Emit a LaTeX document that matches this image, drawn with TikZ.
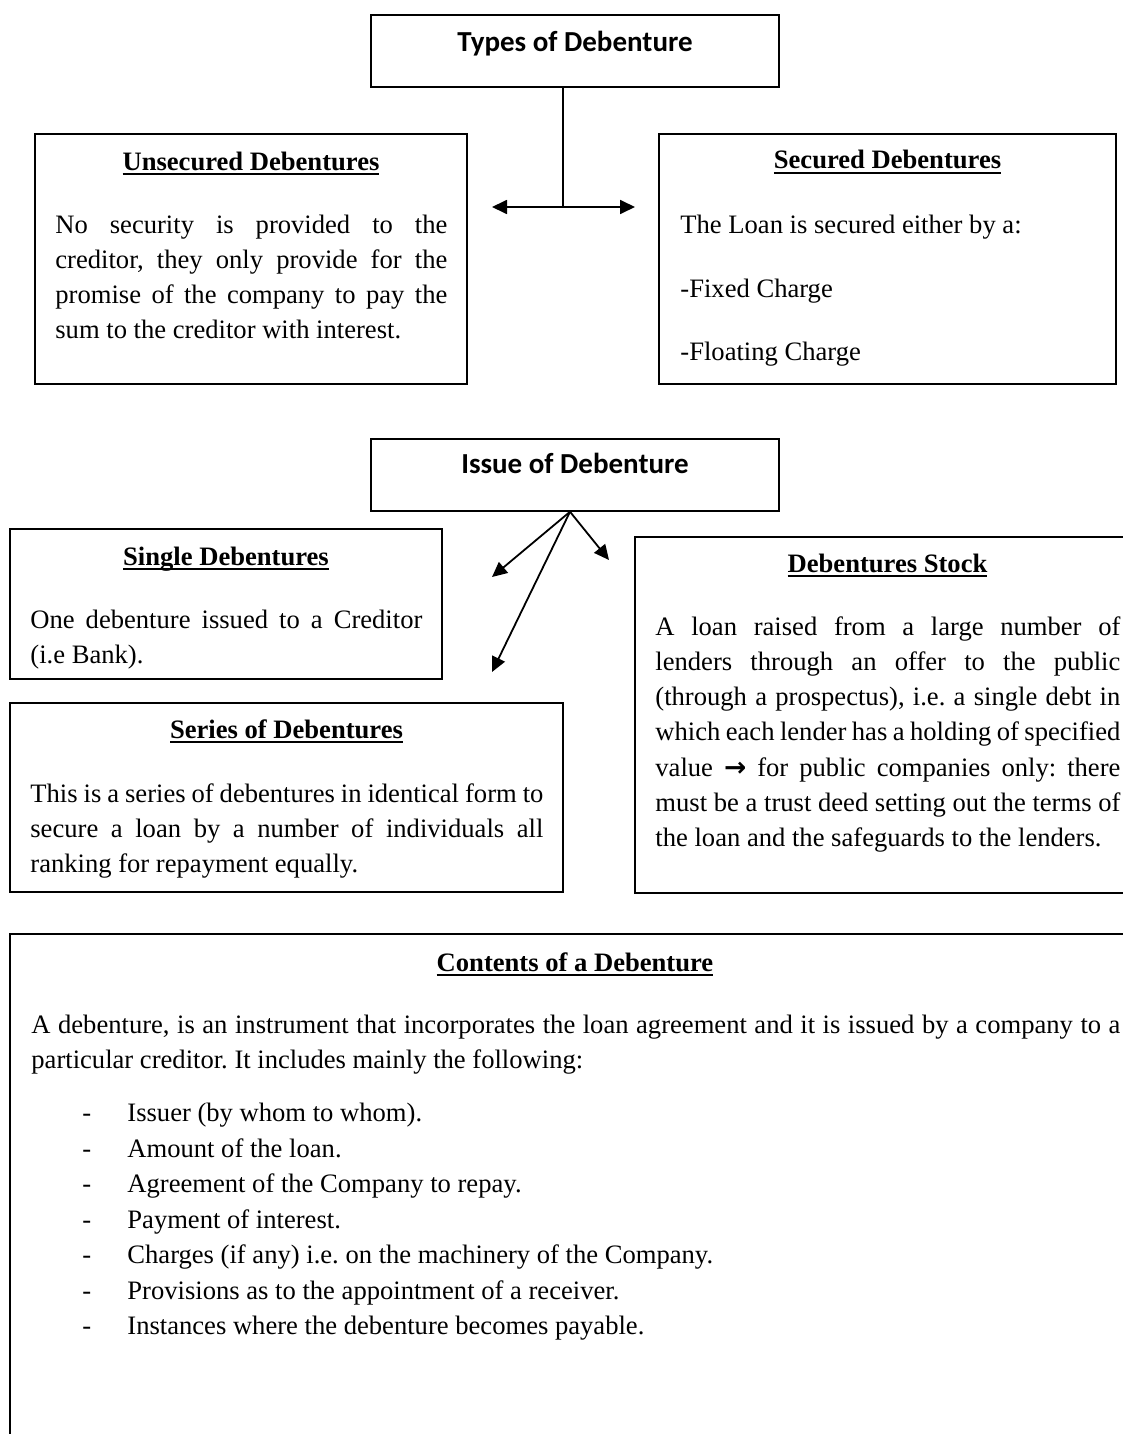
\documentclass[tikz,border=0pt]{standalone}
\usepackage{fontspec}
\setmainfont{Liberation Serif}
\newfontfamily\headfont{Carlito}
\newfontfamily\symfont{DejaVu Sans}
\usetikzlibrary{arrows.meta,fit}
\frenchspacing

% bold title with a heavy underline
\newcommand\ulbf[1]{\setbox0\hbox{\bfseries #1}\rlap{\rule[-2.7pt]{\wd0}{1pt}}\box0}
% a line stretched to the full measure (justified)
\newcommand\jline[2]{\makebox[#1][s]{#2}}

\tikzset{
  x=0.5pt, y=-0.5pt,
  box/.style={draw, line width=0.75pt, inner sep=0pt, rectangle},
  head/.style={font=\headfont\bfseries\fontsize{14.5}{17}\selectfont, inner sep=0pt, anchor=base},
  ttl/.style={font=\fontsize{13.3}{16}\selectfont, inner sep=0pt, anchor=base},
  txt/.style={font=\fontsize{13.3}{16}\selectfont, inner sep=0pt, anchor=base west},
  link/.style={line width=0.9pt},
  conn/.style={line width=0.9pt, -{Triangle[length=7.5pt,width=7pt]}},
  both/.style={line width=0.9pt, {Triangle[length=7.5pt,width=7pt]}-{Triangle[length=7.5pt,width=7pt]}}
}

\begin{document}
\begin{tikzpicture}
\useasboundingbox (0,0) rectangle (1123,1434);
\fill[white] (0,0) rectangle (1123,1434);
\clip (0,0) rectangle (1123,1434);

% ---------- Types of debenture ----------
\node[box, fit={(371,15)(779,87)}] (types) {};
\node[head] (typesT) at (575,52) {Types of Debenture};

\node[box, fit={(35,134)(467,384)}] (unsec) {};
\node[ttl] (unsecT) at (251,170) {\ulbf{Unsecured Debentures}};
\node[txt] (u1) at (55,233) {\jline{196pt}{No security is provided to the}};
\node[txt] (u2) at (55,268.3) {\jline{196pt}{creditor, they only provide for the}};
\node[txt] (u3) at (55,303.6) {\jline{196pt}{promise of the company to pay the}};
\node[txt] (u4) at (55,338.9) {sum to the creditor with interest.};

\node[box, fit={(659,134)(1116,384)}] (sec) {};
\node[ttl] (secT) at (887.5,169) {\ulbf{Secured Debentures}};
\node[txt] (s1) at (680,233) {The Loan is secured either by a:};
\node[txt] (s2) at (680,297) {-Fixed Charge};
\node[txt] (s3) at (680,360) {-Floating Charge};

\coordinate (jx) at (563,207);
\coordinate (la) at (492,207);
\coordinate (ra) at (635,207);
\draw[link] (types.south -| jx) -- (jx);
\draw[both] (la) -- (ra);

% ---------- Issue of debenture ----------
\node[box, fit={(371,439)(779,511)}] (issue) {};
\node[head] (issueT) at (575,473) {Issue of Debenture};

\coordinate (sx) at (570,0);
\coordinate (src) at (issue.south -| sx);
\coordinate (t1) at (492,577);
\coordinate (t2) at (492,672);
\coordinate (t3) at (609,560);
\draw[conn] (src) -- (t1);
\draw[conn] (src) -- (t2);
\draw[conn] (src) -- (t3);

\node[box, fit={(10,529)(442,679)}] (single) {};
\node[ttl] (singleT) at (226,565) {\ulbf{Single Debentures}};
\node[txt] (g1) at (30,628) {\jline{196pt}{One debenture issued to a Creditor}};
\node[txt] (g2) at (30,663.3) {(i.e Bank).};

\node[box, fit={(10,703)(563,892)}] (series) {};
\node[ttl] (seriesT) at (286.5,738) {\ulbf{Series of Debentures}};
\node[txt] (r1) at (30,802) {\jline{256.5pt}{This is a series of debentures in identical form to}};
\node[txt] (r2) at (30,837.3) {\jline{256.5pt}{secure a loan by a number of individuals all}};
\node[txt] (r3) at (30,872.6) {ranking for repayment equally.};

\node[box, fit={(635,537)(1140,893)}] (stock) {};
\node[ttl] (stockT) at (887.5,572) {\ulbf{Debentures Stock}};
\node[txt] (k1) at (655,635) {\jline{232.5pt}{A loan raised from a large number of}};
\node[txt] (k2) at (655,670.3) {\jline{232.5pt}{lenders through an offer to the public}};
\node[txt] (k3) at (655,705.6) {\jline{232.5pt}{(through a prospectus), i.e. a single debt in}};
\node[txt] (k4) at (655,740.9) {\jline{232.5pt}{which each lender has a holding of specified}};
\node[txt] (k5) at (655,776.2) {\jline{232.5pt}{value {\symfont\bfseries →} for public companies only: there}};
\node[txt] (k6) at (655,811.5) {\jline{232.5pt}{must be a trust deed setting out the terms of}};
\node[txt] (k7) at (655,846.8) {the loan and the safeguards to the lenders.};

% ---------- Contents of a debenture ----------
\node[box, fit={(10,934)(1140,1470)}] (contents) {};
\node[ttl] (contentsT) at (575,971) {\ulbf{Contents of a Debenture}};
\node[txt] (c1) at (31,1033) {\jline{544.5pt}{A debenture, is an instrument that incorporates the loan agreement and it is issued by a company to a}};
\node[txt] (c2) at (31,1068) {particular creditor. It includes mainly the following:};

\foreach \y/\item [count=\i] in {
  1121/{Issuer (by whom to whom).},
  1157/{Amount of the loan.},
  1192/{Agreement of the Company to repay.},
  1228/{Payment of interest.},
  1263/{Charges (if any) i.e. on the machinery of the Company.},
  1299/{Provisions as to the appointment of a receiver.},
  1334/{Instances where the debenture becomes payable.}}{
  \node[txt] (d\i) at (82,\y) {-};
  \node[txt] (e\i) at (127,\y) {\item};
}
\end{tikzpicture}
\end{document}
